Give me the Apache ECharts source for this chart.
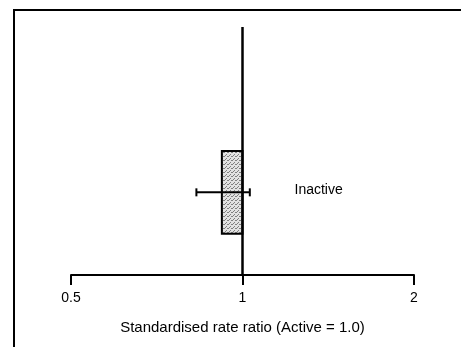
<!DOCTYPE html>
<html><head><meta charset="utf-8">
<script src="https://cdn.jsdelivr.net/npm/echarts@6/dist/echarts.min.js"></script>
<style>html,body{margin:0;padding:0;background:#fff}#c{width:461px;height:347px}</style>
</head><body><div id="c"></div>
<script>
var categories = ['Inactive'];
var categoryPos = [1];
var ratioEstimate = [0.92];
var ciLow = [0.83];
var ciHigh = [1.03];
var referenceValue = 1.0;
var labelAt = [1.234];
var xTicks = [0.5, 1, 2];
var xTitle = 'Standardised rate ratio (Active = 1.0)';

// stipple pattern
var pc = document.createElement('canvas');
pc.width = 4; pc.height = 4;
var pctx = pc.getContext('2d');
pctx.fillStyle = '#e2e2e2'; pctx.fillRect(0,0,4,4);
pctx.fillStyle = '#808080';
pctx.fillRect(0,0,1,1); pctx.fillRect(2,2,1,1); pctx.fillRect(3,0,1,1);pctx.fillRect(1,3,1,1);

var chart = echarts.init(document.getElementById('c'), null, {renderer:'canvas'});
var FONT = 'Liberation Sans';
chart.setOption({
  animation:false,
  backgroundColor:'#fff',
  textStyle:{fontFamily:FONT},
  grid:{left:71, right:47, top:27, bottom:72},
  xAxis:{
    type:'log', logBase:2, min:xTicks[0], max:xTicks[xTicks.length-1],
    axisLine:{lineStyle:{color:'#000', width:2}},
    axisTick:{show:true, length:10, lineStyle:{color:'#000', width:2}},
    splitLine:{show:false}, minorTick:{show:false},
    axisLabel:{color:'#000', fontSize:14, margin:16, fontFamily:FONT,
      formatter:function(v){return String(+v.toFixed(2));}},
    name:xTitle, nameLocation:'middle', nameGap:45,
    nameTextStyle:{color:'#000', fontSize:15, fontFamily:FONT}
  },
  yAxis:{type:'value', min:0, max:3, show:false},
  series:[
    {
      type:'custom',
      renderItem:function(params, api){
        var p1 = api.coord([api.value(0), api.value(2)+0.5]);
        var p2 = api.coord([api.value(1), api.value(2)-0.5]);
        return {type:'rect', shape:{x:p1[0], y:p1[1], width:p2[0]-p1[0], height:p2[1]-p1[1]},
          style:{fill:{image:pc, repeat:'repeat'}, stroke:'#000', lineWidth:2}};
      },
      data: categories.map(function(c,i){return [ratioEstimate[i], referenceValue, categoryPos[i]];}),
      z:2
    },
    {
      type:'custom',
      renderItem:function(params, api){
        var a = api.coord([api.value(0), api.value(2)]);
        var b = api.coord([api.value(1), api.value(2)]);
        var h = 4;
        return {type:'group', children:[
          {type:'line', shape:{x1:a[0], y1:a[1], x2:b[0], y2:b[1]}, style:{stroke:'#000', lineWidth:2}},
          {type:'line', shape:{x1:a[0], y1:a[1]-h, x2:a[0], y2:a[1]+h}, style:{stroke:'#000', lineWidth:2}},
          {type:'line', shape:{x1:b[0], y1:b[1]-h, x2:b[0], y2:b[1]+h}, style:{stroke:'#000', lineWidth:2}}
        ]};
      },
      data: categories.map(function(c,i){return [ciLow[i], ciHigh[i], categoryPos[i]];}),
      z:4
    },
    {
      type:'line', data:[[referenceValue,0],[referenceValue,3]], symbol:'none',
      lineStyle:{color:'#000', width:2.5}, z:3
    },
    {
      type:'custom',
      renderItem:function(params, api){
        var p = api.coord([api.value(0), api.value(1)]);
        return {type:'text', x:p[0], y:p[1]-2,
          style:{text:categories[params.dataIndex], fill:'#000', font:'14px "Liberation Sans"',
            textAlign:'left', textVerticalAlign:'middle'}};
      },
      data: categories.map(function(c,i){return [labelAt[i], categoryPos[i]];}),
      z:5
    }
  ],
  graphic:[{type:'rect', shape:{x:14, y:10, width:470, height:360},
    style:{fill:'none', stroke:'#000', lineWidth:2}, z:100}]
});
</script></body></html>
